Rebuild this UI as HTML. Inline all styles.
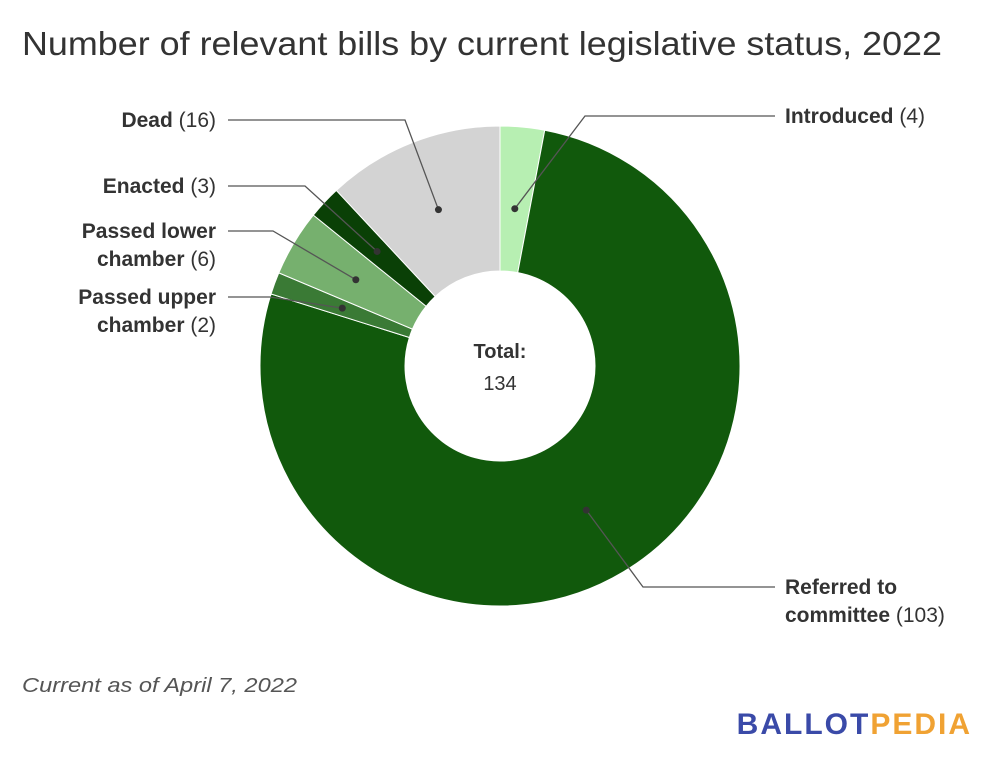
<!DOCTYPE html>
<html><head><meta charset="utf-8"><style>
body{margin:0;background:#fff;width:1000px;height:770px;overflow:hidden;font-family:"Liberation Sans",sans-serif}
svg text{font-family:"Liberation Sans",sans-serif}
</style></head><body>
<svg id="chart" width="1000" height="770" viewBox="0 0 1000 770">
<text x="22" y="55" font-size="33" fill="#333" textLength="920" lengthAdjust="spacingAndGlyphs">Number of relevant bills by current legislative status, 2022</text>
<g id="slices"></g>
<g id="leaders"></g>
<text x="500" y="358" font-size="20" font-weight="bold" fill="#333" text-anchor="middle">Total:</text>
<text x="500" y="390" font-size="20" fill="#333" text-anchor="middle">134</text>
<text x="22" y="692" font-size="20" font-style="italic" fill="#555" textLength="275" lengthAdjust="spacingAndGlyphs">Current as of April 7, 2022</text>
<text x="972" y="734" font-size="30" font-weight="bold" text-anchor="end" letter-spacing="2"><tspan fill="#3a4aa8">BALLOT</tspan><tspan fill="#f0a233">PEDIA</tspan></text>
</svg>
<script>
const categories=["Introduced","Referred to committee","Passed upper chamber","Passed lower chamber","Enacted","Dead"];
const values=[4,103,2,6,3,16];
const colors=["#b7efb2","#11590c","#3a7a35","#76b06e","#0a4006","#d3d3d3"];
const labelLines=[[["Introduced"," (4)"]],[["Referred to",""],["committee"," (103)"]],[["Passed upper",""],["chamber"," (2)"]],[["Passed lower",""],["chamber"," (6)"]],[["Enacted"," (3)"]],[["Dead"," (16)"]]];
const layout=[[585,116,775,"start"],[643,587,775,"start"],[270,297,228,"end"],[273,231,228,"end"],[305,186,228,"end"],[405,120,228,"end"]];
const NS="http://www.w3.org/2000/svg";
const cx=500,cy=366,R=240,r=95,rd=168;
const total=values.reduce((a,b)=>a+b,0);
function pt(rad,f){const a=f*2*Math.PI;return [cx+rad*Math.sin(a),cy-rad*Math.cos(a)];}
const gs=document.getElementById("slices"),gl=document.getElementById("leaders");
let acc=0;
values.forEach((v,i)=>{
 const f0=acc/total,f1=(acc+v)/total;acc+=v;
 const large=(f1-f0)>0.5?1:0;
 const [x0,y0]=pt(R,f0),[x1,y1]=pt(R,f1),[x2,y2]=pt(r,f1),[x3,y3]=pt(r,f0);
 const p=document.createElementNS(NS,"path");
 p.setAttribute("d",`M${x0},${y0}A${R},${R} 0 ${large} 1 ${x1},${y1}L${x2},${y2}A${r},${r} 0 ${large} 0 ${x3},${y3}Z`);
 p.setAttribute("fill",colors[i]);p.setAttribute("stroke","#fff");p.setAttribute("stroke-width","1");
 
 
 gs.appendChild(p);
 const [dx,dy]=pt(i===0?158:rd,(f0+f1)/2);
 const L=layout[i];
 const pl=document.createElementNS(NS,"polyline");
 pl.setAttribute("points",`${dx},${dy} ${L[0]},${L[1]} ${L[2]},${L[1]}`);
 pl.setAttribute("fill","none");pl.setAttribute("stroke","#555");pl.setAttribute("stroke-width","1.3");
 
 
 gl.appendChild(pl);
 const c=document.createElementNS(NS,"circle");
 c.setAttribute("cx",dx);c.setAttribute("cy",dy);c.setAttribute("r","3.5");c.setAttribute("fill","#333");
 
 
 gl.appendChild(c);
 const lines=labelLines[i];
 const tx=L[3]==="start"?L[2]+10:L[2]-12;
 lines.forEach((ln,k)=>{
  const t=document.createElementNS(NS,"text");
  t.setAttribute("x",tx);
  t.setAttribute("y",L[1]+7+k*28);t.setAttribute("font-size","21");t.setAttribute("fill","#333");t.setAttribute("text-anchor",L[3]);
  
  
  const a=document.createElementNS(NS,"tspan");a.setAttribute("font-weight","bold");a.textContent=ln[0];
  const b=document.createElementNS(NS,"tspan");b.textContent=ln[1];
  t.appendChild(a);t.appendChild(b);gl.appendChild(t);
 });
});
</script>
</body></html>
